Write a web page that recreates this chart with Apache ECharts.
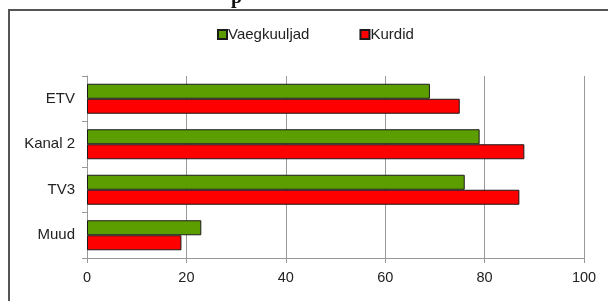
<!DOCTYPE html>
<html>
<head>
<meta charset="utf-8">
<script src="https://cdn.jsdelivr.net/npm/echarts@6/dist/echarts.min.js"></script>
<style>
  html, body { margin: 0; padding: 0; background: #fff; }
</style>
</head>
<body>
<div id="chart" style="width: 608px; height: 301px"></div>
<script>
var categories = ["ETV", "Kanal 2", "TV3", "Muud"];
var vaegkuuljad = [69, 79, 76, 23];
var kurdid = [75, 88, 87, 19];
var xTicks = [0, 20, 40, 60, 80, 100];

var myChart = echarts.init(document.getElementById("chart"));

var option = {
  animation: false,
  backgroundColor: "#fff",
  textStyle: { fontFamily: "Liberation Sans, Arial, sans-serif" },
  color: ["#5c9e00", "#ff0000"],
  legend: {
    top: 22,
    left: 212,
    itemWidth: 9,
    itemHeight: 9,
    itemGap: 50,
    icon: "rect",
    textStyle: { fontSize: 15, color: "#222", padding: [0, 0, 0, -4] },
    data: ["Vaegkuuljad", "Kurdid"]
  },
  grid: {
    left: 87,
    right: 24,
    top: 76,
    bottom: 43
  },
  xAxis: {
    type: "value",
    min: xTicks[0],
    max: xTicks[xTicks.length - 1],
    interval: 20,
    axisLine: { show: true, lineStyle: { color: "#999", width: 1 } },
    axisTick: { show: true, length: 5, lineStyle: { color: "#999" } },
    splitLine: { show: true, lineStyle: { color: "#999", width: 1 } },
    axisLabel: { color: "#222", fontSize: 14.5, margin: 12 }
  },
  yAxis: {
    type: "category",
    inverse: true,
    data: categories,
    axisLine: { show: true, lineStyle: { color: "#999", width: 1 } },
    axisTick: { show: true, length: 5, lineStyle: { color: "#999" } },
    axisLabel: { color: "#222", fontSize: 15, margin: 12 }
  },
  series: [
    {
      name: "Vaegkuuljad",
      type: "bar",
      data: vaegkuuljad,
      barWidth: 15,
      barGap: "0%",
      itemStyle: { borderColor: "#1a1a1a", borderWidth: 1 }
    },
    {
      name: "Kurdid",
      type: "bar",
      data: kurdid,
      barWidth: 15,
      barGap: "0%",
      itemStyle: { borderColor: "#1a1a1a", borderWidth: 1 }
    }
  ],
  graphic: [
    {
      type: "rect",
      shape: { x: 9, y: 10, width: 620, height: 320 },
      style: { fill: "none", stroke: "#555", lineWidth: 2 },
      z: 100
    },
    {
      type: "text",
      left: 231,
      top: -12,
      style: { text: "p", font: "bold 20px Liberation Serif", fill: "#111" }
    }
  ]
};

myChart.setOption(option);
</script>
</body>
</html>
